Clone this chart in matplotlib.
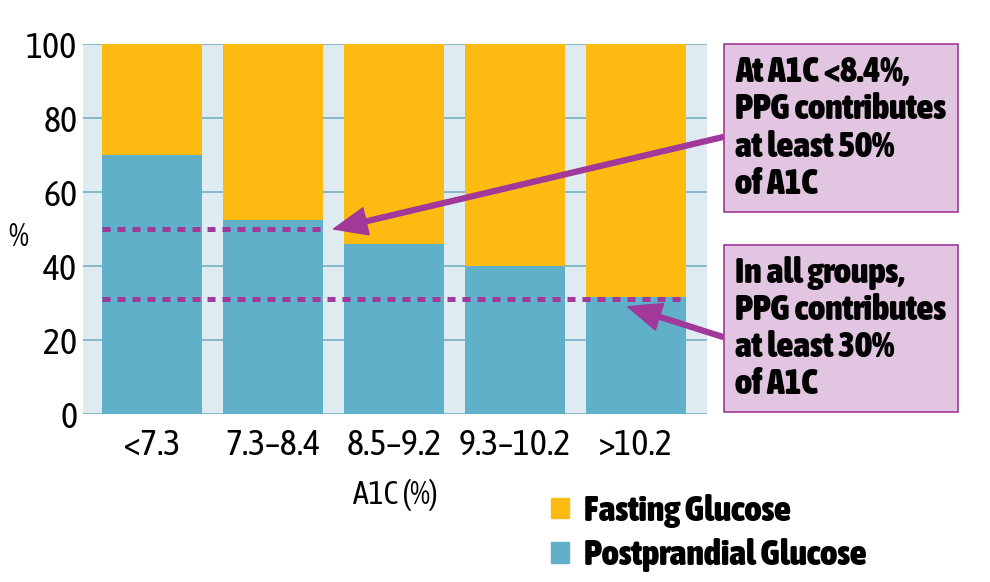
import matplotlib.pyplot as plt
from matplotlib.patches import Rectangle, Patch

# data
categories = ['<7.3', '7.3–8.4', '8.5–9.2', '9.3–10.2', '>10.2']
ppg = [70, 52.5, 46, 40, 31.5]
fasting = [30, 47.5, 54, 60, 68.5]
yticks = [0, 20, 40, 60, 80, 100]
thresholds = [50, 31]
threshold_last_bar = [1, 4]
box_texts = ['At A1C <8.4%,\nPPG contributes\nat least 50%\nof A1C',
             'In all groups,\nPPG contributes\nat least 30%\nof A1C']

ORANGE = '#FDBB12'
TEAL = '#60B0C9'
BG = '#DEECF2'
GRID = '#7FB3C6'
PURPLE = '#A1389A'
BOXFILL = '#E2C5E0'

plt.rcParams['font.family'] = ['Asap Condensed', 'Archivo Narrow', 'DejaVu Sans']

fig = plt.figure(figsize=(9.9, 5.82), dpi=100)
ax = fig.add_axes([83/990, 1-414/582, 624/990, 370/582])
ax.set_facecolor(BG)

x = list(range(len(categories)))
w = 0.826
ax.bar(x, ppg, width=w, color=TEAL, zorder=2)
ax.bar(x, fasting, bottom=ppg, width=w, color=ORANGE, zorder=2)

for yv in yticks:
    ax.axhline(yv, color=GRID, lw=1.3, zorder=1)

for t, last in zip(thresholds, threshold_last_bar):
    ax.plot([-w/2, last + w/2], [t, t], color=PURPLE, lw=3.6,
            linestyle=(0, (1.6, 1.4)), dash_capstyle='butt', zorder=3)

ax.set_xlim(-0.57, 4.585)
ax.set_ylim(0, 100)
ax.set_xticks(x)
ax.set_xticklabels(categories, fontsize=26)
ax.set_yticks(yticks)
ax.set_yticklabels([str(v) for v in yticks], fontsize=26)
ax.tick_params(length=0)
ax.tick_params(axis='y', pad=4)
ax.tick_params(axis='x', pad=10)
for s in ax.spines.values():
    s.set_visible(False)
ax.set_xlabel('A1C (%)', fontsize=23, labelpad=12)
ax.set_ylabel('%', fontsize=23, rotation=0, va='center', ha='center')
ax.yaxis.set_label_coords((18-83)/624, (414-238)/370)

# annotation boxes
box_y = [(44, 212), (245, 412)]
for (top, bot), txt in zip(box_y, box_texts):
    fig.add_artist(Rectangle((724/990, 1-bot/582), 234/990, (bot-top)/582,
                             transform=fig.transFigure, facecolor=BOXFILL,
                             edgecolor=PURPLE, lw=1.2))
    fig.text(735/990, 1-(top+bot)/2/582, txt, fontsize=26, fontweight=900,
             va='center', ha='left', linespacing=1.12)

# arrows
arrow_style = dict(facecolor=PURPLE, edgecolor=PURPLE, width=3.5,
                   headwidth=20, headlength=24, shrink=0)
ax.annotate('', xy=(1.5, 50), xytext=(723/990, 1-137/582), textcoords='figure fraction',
            arrowprops=arrow_style, zorder=4)
ax.annotate('', xy=(3.93, 29), xytext=(723/990, 1-337/582), textcoords='figure fraction',
            arrowprops=arrow_style, zorder=4)

handles = [Patch(color=ORANGE, label='Fasting Glucose'),
           Patch(color=TEAL, label='Postprandial Glucose')]
leg = fig.legend(handles=handles, loc='upper left', bbox_to_anchor=(551/990, 1-494/582),
                 frameon=False, prop={'size': 26, 'weight': 900},
                 handlelength=0.5, handleheight=0.5, handletextpad=0.4,
                 labelspacing=0.28, borderaxespad=0, borderpad=0)

fig.savefig('out.png', dpi=100)
